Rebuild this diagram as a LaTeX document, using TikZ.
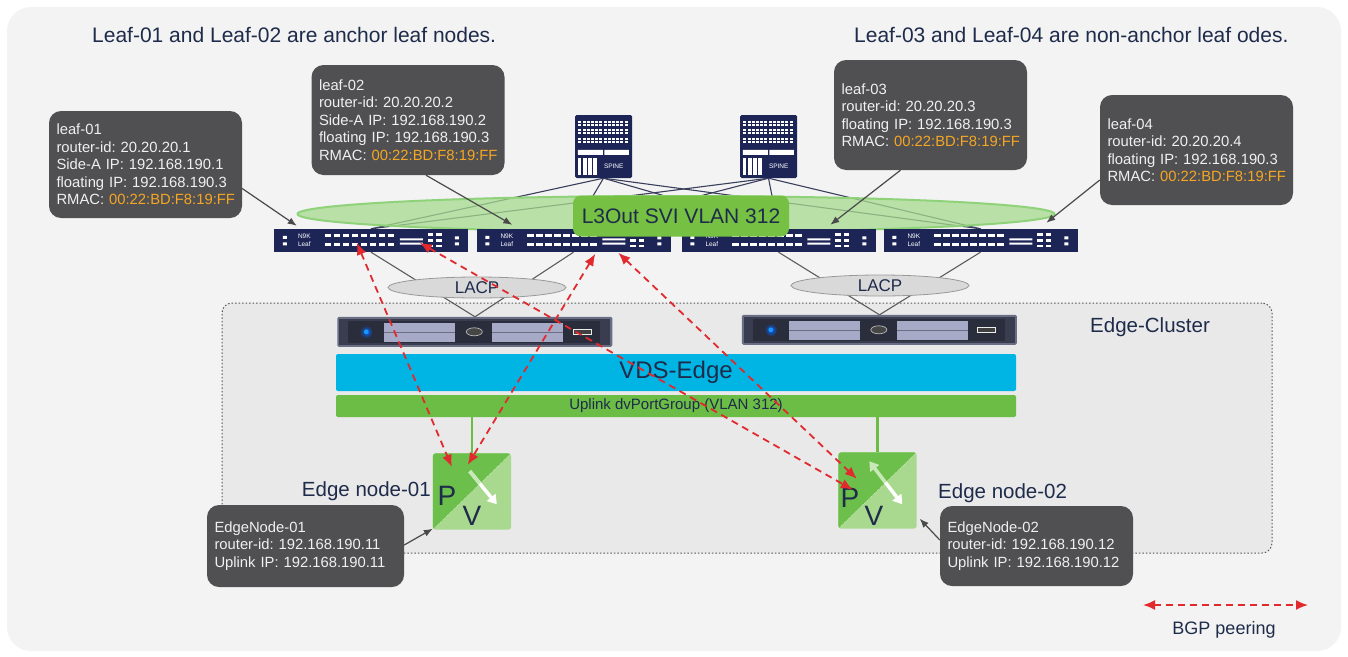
\documentclass[tikz,border=0pt]{standalone}
\usepackage{fontspec}
\setmainfont{Liberation Sans}
\usetikzlibrary{arrows.meta,calc,shapes.geometric}

\definecolor{navy}{HTML}{1C2556}
\definecolor{boxgray}{HTML}{505052}
\definecolor{macorange}{HTML}{F5A623}
\definecolor{headtext}{HTML}{1E2B4A}
\definecolor{svigreen}{HTML}{76C043}
\definecolor{ringgreen}{HTML}{A6DA8E}
\definecolor{ringedge}{HTML}{8FD27A}
\definecolor{vdscyan}{HTML}{00B5E4}
\definecolor{uplinkgreen}{HTML}{6CBD45}
\definecolor{pgreen}{HTML}{6BBF4A}
\definecolor{vgreen}{HTML}{A9D98E}
\definecolor{arrowlight}{HTML}{C8E8B8}
\definecolor{bgpred}{HTML}{E2292E}
\definecolor{panelbg}{HTML}{F3F3F3}
\definecolor{clusterbg}{HTML}{E9E9E9}
\definecolor{linkgray}{HTML}{4A4A4A}
\definecolor{fabricline}{HTML}{3A3F5C}
\definecolor{lacpfill}{HTML}{D9D9D9}
\definecolor{srvedge}{HTML}{6A6E84}
\definecolor{srvframe}{HTML}{3A3D50}
\definecolor{srvpanel}{HTML}{2A2D3C}
\definecolor{drivec}{HTML}{A7AAC6}

\newcommand\setfs[2]{\fontsize{#1}{#2}\selectfont}
% router MAC line, kept on one line
\newcommand\rmacline[1]{\mbox{RMAC: \textcolor{macorange}{#1}}}

\pgfdeclarelayer{panel}
\pgfdeclarelayer{links}
\pgfsetlayers{panel,links,main}

\tikzset{
  infobox/.style={fill=boxgray, rounded corners=12pt, text=white!94!black,
    font=\setfs{14.8}{17.5}, align=left, text width=178pt, inner xsep=7.5pt,
    inner ysep=0pt},
  callout/.style={draw=linkgray, line width=1.2pt, -{Latex[length=9pt,width=7pt]}},
  fabric/.style={draw=fabricline, line width=1.1pt},
  lacpline/.style={draw=linkgray!90, line width=1.1pt},
  bgp/.style={draw=bgpred, line width=1.8pt, dash pattern=on 7pt off 5pt,
    {Latex[length=12pt,width=10pt]}-{Latex[length=12pt,width=10pt]}},
  switchbox/.style={fill=navy, minimum width=194pt, minimum height=23pt, inner sep=0pt},
  spinebox/.style={fill=navy, rounded corners=1.5pt, minimum width=57pt,
    minimum height=63pt, inner sep=0pt},
  serverbox/.style={minimum width=275pt, minimum height=30pt, inner sep=0pt},
  heading/.style={text=headtext, font=\setfs{21}{25}, anchor=west, inner sep=0pt},
  sublabel/.style={text=headtext, font=\setfs{20.5}{24}, inner sep=0pt},
  lacp/.style={ellipse, fill=lacpfill, draw=gray!80, line width=0.8pt,
    minimum width=178pt, minimum height=21pt, inner sep=0pt, font=\setfs{17}{20},
    text=headtext},
  edgesq/.style={minimum width=78pt, minimum height=76pt, inner sep=0pt},
  pvletter/.style={text=headtext, font=\setfs{28}{30}, inner sep=0pt, anchor=base},
}

% front panel of a leaf switch
\newcommand\leafports[1]{%
  \begin{scope}[shift={(#1.north west)}]
    \fill[white] (9,7) rectangle ++(4,3) (9,13.5) rectangle ++(4,3);
    \node[anchor=west, inner sep=0pt, text=white, font=\setfs{6.5}{6.5}] at (24,7.5) {N9K};
    \node[anchor=west, inner sep=0pt, text=white, font=\setfs{6.5}{6.5}] at (24,15.5) {Leaf};
    \foreach \i in {0,...,7} {
      \fill[white] (51+\i*9,5.5) rectangle ++(6.5,3);
      \fill[white] (51+\i*9,14) rectangle ++(6.5,3);
    }
    \fill[white] (126,9.5) rectangle ++(23,2) (126,13.8) rectangle ++(23,2);
    \foreach \i in {0,1} \foreach \r in {4.5,10.3,16} \fill[white] (154+\i*8.5,\r) rectangle ++(5.5,2.6);
    \fill[white] (181,7.5) rectangle ++(4,3) (181,13.5) rectangle ++(4,3);
  \end{scope}}

% front panel of a spine switch
\newcommand\spinefront[1]{%
  \begin{scope}[shift={(#1.north west)}]
    \foreach \r in {6,14.5,23} \foreach \i in {0,...,11} {
      \fill[white] (3.5+\i*4.2,\r) rectangle ++(3,2.1);
      \fill[white] (3.5+\i*4.2,\r+2.8) rectangle ++(3,2.1);
    }
    \fill[white] (3,35) rectangle (28,40) (29.5,35) rectangle (54,40);
    \foreach \i in {0,...,3} \fill[white] (3+\i*5.2,43) rectangle ++(3.6,17);
    \node[anchor=west, inner sep=0pt, text=white, font=\setfs{6.5}{6.5}] at (29,51.5) {SPINE};
  \end{scope}}

% front panel of a rack server
\newcommand\serverfront[1]{%
  \begin{scope}[shift={(#1.north west)}]
    \fill[srvedge, rounded corners=1.5pt] (0,0) rectangle (275,30);
    \fill[srvframe] (2,2) rectangle (273,28);
    \fill[srvpanel] (11,4) rectangle (263,26);
    \shade[inner color=blue!60!cyan, outer color=srvpanel] (29,15) circle (6.5);
    \fill[blue!45!cyan!90!white] (29,15) circle (2.4);
    \fill[drivec] (47,6) rectangle (118,25);
    \draw[drivec!65!black, line width=.6pt] (47,15.5) -- (118,15.5);
    \draw[gray!55, line width=.7pt, fill=gray!55!black] (137,15) ellipse [x radius=8, y radius=4];
    \fill[drivec] (155,6) rectangle (226,25);
    \draw[drivec!65!black, line width=.6pt] (155,15.5) -- (226,15.5);
    \draw[white!85!gray, line width=1pt, fill=gray!50!black] (236,12.5) rectangle (254,18);
  \end{scope}}

% split P/V square of an edge node
\newcommand\pvsquare[1]{%
  \fill[vgreen, rounded corners=3pt] (#1.south west) rectangle (#1.north east);
  \begin{scope}
    \clip[rounded corners=3pt] (#1.south west) rectangle (#1.north east);
    \fill[pgreen] (#1.south west) -- (#1.north west) -- (#1.north east) -- cycle;
  \end{scope}
  \draw[white, opacity=.6, line width=.6pt, dash pattern=on 1pt off 1pt]
    (#1.south west) -- (#1.north east);}

\begin{document}
\frenchspacing
\begin{tikzpicture}[x=1pt,y=-1pt]
\useasboundingbox (0,0) rectangle (1348,656);

\begin{pgfonlayer}{panel}
  \fill[white] (0,0) rectangle (1348,656);
  \fill[panelbg, rounded corners=24pt] (7,7) rectangle (1341,651);
  \node[draw=black!65, dash pattern=on 1.5pt off 2pt, line width=1pt, fill=clusterbg,
        rounded corners=10pt, minimum width=1050pt, minimum height=250pt, inner sep=0pt]
        (cluster) at (747,428) {};
\end{pgfonlayer}

% headings
\node[heading] (h1) at (92,35) {Leaf-01 and Leaf-02 are anchor leaf nodes.};
\node[heading] (h2) at (854,35) {Leaf-03 and Leaf-04 are non-anchor leaf odes.};
\node[sublabel, anchor=west] (clab) at (1090,327) {Edge-Cluster};

% L3Out ring behind the leaves
\node[ellipse, fill=ringgreen, fill opacity=.75, draw=ringedge, line width=2pt,
      minimum width=757pt, minimum height=36pt, inner sep=0pt] (ring) at (676,214) {};

% spines
\node[spinebox] (sp1) at (603.5,146.5) {};
\node[spinebox] (sp2) at (768.5,146.5) {};
\spinefront{sp1}
\spinefront{sp2}

% leaves
\node[switchbox] (leaf1) at (371,240.5) {};
\node[switchbox] (leaf2) at (573.5,240.5) {};
\node[switchbox] (leaf3) at (778.5,240.5) {};
\node[switchbox] (leaf4) at (980.5,240.5) {};
\leafports{leaf1}
\leafports{leaf2}
\leafports{leaf3}
\leafports{leaf4}

\node[fill=svigreen, rounded corners=8pt, minimum width=216pt, minimum height=41pt,
      inner sep=0pt, font=\setfs{21}{25}, text=headtext] (svi) at (681,216) {L3Out SVI VLAN 312};

% LACP bundles and servers
\node[lacp] (lacp1) at (477,287.5) {LACP};
\node[lacp] (lacp2) at (880,285.5) {LACP};
\node[serverbox] (srv1) at (475,332) {};
\node[serverbox] (srv2) at (879.5,330) {};
\serverfront{srv1}
\serverfront{srv2}

% distributed switch and port group
\node[fill=vdscyan, rounded corners=2pt, minimum width=680pt, minimum height=37pt,
      inner sep=0pt, font=\setfs{24}{28}, text=headtext] (vds) at (676,372.5) {VDS-Edge};
\node[fill=uplinkgreen, rounded corners=2pt, minimum width=680pt, minimum height=22pt,
      inner sep=0pt, font=\setfs{15}{18}, text=headtext] (upl) at (676,406) {Uplink dvPortGroup (VLAN 312)};

% edge nodes
\node[edgesq] (en1) at (472,491.5) {};
\node[edgesq] (en2) at (877.5,490.5) {};
\draw[uplinkgreen, line width=2.5pt] (upl.south -| en1.north) -- (en1.north);
\draw[uplinkgreen, line width=2.5pt] (upl.south -| en2.north) -- (en2.north);
\pvsquare{en1}
\pvsquare{en2}
\node[pvletter] (p1) at (447,505) {P};
\node[pvletter] (v1) at (472,525) {V};
\node[pvletter] (p2) at (850,507) {P};
\node[pvletter] (v2) at (874,525) {V};

% traffic arrows inside the edge nodes
\coordinate (a1s) at ($(en1.north west)+(37,18)$);
\coordinate (a1m) at ($(en1.north west)+(47,30)$);
\coordinate (a1e) at ($(en1.north west)+(64,51)$);
\draw[white, line width=3.5pt, -{Triangle[length=9pt,width=11pt]}] (a1s) -- (a1e);
\draw[arrowlight, line width=3.5pt] (a1s) -- (a1m);
\coordinate (a2s) at ($(en2.north west)+(31,9)$);
\coordinate (a2m) at ($(en2.north west)+(47,30)$);
\coordinate (a2e) at ($(en2.north west)+(64,52)$);
\draw[white, line width=3.5pt, -{Triangle[length=9pt,width=11pt]}] (a2m) -- (a2e);
\draw[arrowlight, line width=3.5pt, -{Triangle[length=9pt,width=11pt]}] (a2m) -- (a2s);

\node[sublabel, anchor=east] (enl1) at (431,491) {Edge node-01};
\node[sublabel, anchor=west] (enl2) at (938,493) {Edge node-02};

% information boxes
\node[infobox, minimum height=107pt] (b1) at (145.5,164.5)
  {leaf-01\\router-id: 20.20.20.1\\Side-A IP: 192.168.190.1\\floating IP: 192.168.190.3\\\rmacline{00:22:BD:F8:19:FF}};
\node[infobox, minimum height=110pt] (b2) at (408,120)
  {leaf-02\\router-id: 20.20.20.2\\Side-A IP: 192.168.190.2\\floating IP: 192.168.190.3\\\rmacline{00:22:BD:F8:19:FF}};
\node[infobox, minimum height=110pt] (b3) at (930.5,115)
  {leaf-03\\router-id: 20.20.20.3\\floating IP: 192.168.190.3\\\rmacline{00:22:BD:F8:19:FF}};
\node[infobox, minimum height=110pt] (b4) at (1196.5,150)
  {leaf-04\\router-id: 20.20.20.4\\floating IP: 192.168.190.3\\\rmacline{00:22:BD:F8:19:FF}};
\node[infobox, minimum height=82pt, text width=182pt] (eb1) at (305.5,546)
  {EdgeNode-01\\router-id: 192.168.190.11\\Uplink IP: 192.168.190.11};
\node[infobox, minimum height=80pt] (eb2) at (1036.5,546)
  {EdgeNode-02\\router-id: 192.168.190.12\\Uplink IP: 192.168.190.12};

\draw[callout] ($(b1.east)+(0,24)$) -- ($(leaf1.north west)+(23,-3)$);
\draw[callout] ($(b2.south)+(18,0)$) -- ($(leaf2.north west)+(36,-4)$);
\draw[callout] ($(b3.south)+(-30,0)$) -- ($(leaf3.north west)+(149,-4)$);
\draw[callout] ($(b4.west)+(0,30)$) -- ($(leaf4.north west)+(163,-6)$);
\draw[callout] ($(eb1.east)+(0,-1)$) -- ($(en1.south west)+(0,-1)$);
\draw[callout] ($(eb2.west)+(0,-6)$) -- ($(en2.south east)+(3,-10)$);

% fabric links and LACP members
\begin{pgfonlayer}{links}
  \foreach \s in {sp1,sp2} \foreach \l in {leaf1,leaf2,leaf3,leaf4}
    \draw[fabric] (\s.south) -- (\l.north);
  \draw[lacpline] (leaf1.south) -- (srv1.north);
  \draw[lacpline] (leaf2.south) -- (srv1.north);
  \draw[lacpline] (leaf3.south) -- (srv2.north);
  \draw[lacpline] (leaf4.south) -- (srv2.north);
\end{pgfonlayer}

% BGP peerings
\draw[bgp] ($(leaf1.north west)+(83,14)$) -- ($(en1.north west)+(19,13.5)$);
\draw[bgp] ($(leaf1.north west)+(146,14)$) -- ($(en2.north west)+(14.5,37.5)$);
\draw[bgp] ($(leaf2.north west)+(119,25)$) -- ($(en1.north west)+(35,11.5)$);
\draw[bgp] ($(leaf2.north west)+(142,24)$) -- ($(en2.north west)+(18.5,26.5)$);

% legend
\coordinate (lgA) at (1143,605);
\coordinate (lgB) at (1308,605);
\draw[bgp] (lgA) -- (lgB);
\node[text=headtext, font=\setfs{18}{21}, inner sep=0pt] (lgtext) at (1224,630) {BGP peering};

\end{tikzpicture}
\end{document}
